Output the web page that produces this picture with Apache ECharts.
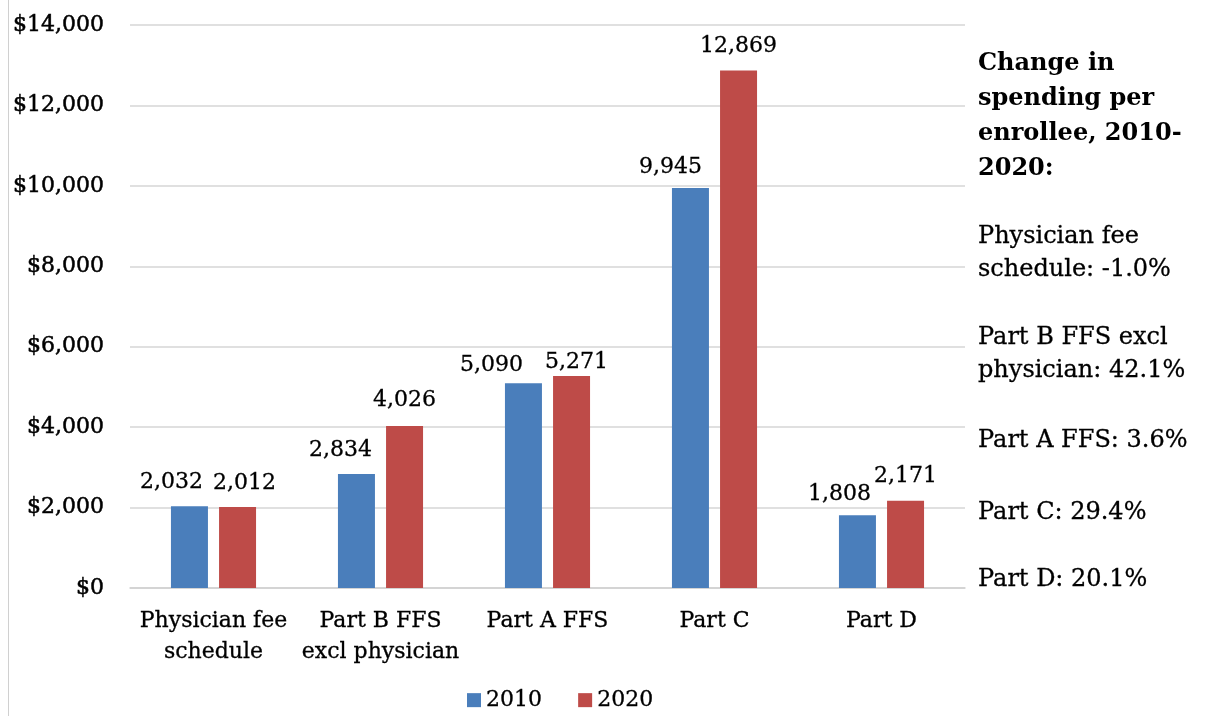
<!DOCTYPE html>
<html>
<head>
<meta charset="utf-8">
<script src="https://cdn.jsdelivr.net/npm/echarts@6/dist/echarts.min.js"></script>
<style>
html,body{margin:0;padding:0;background:#fff;}
#chart{width:1206px;height:726px;}
</style>
</head>
<body>
<div id="chart"></div>
<script>
var categories = ['Physician fee\nschedule', 'Part B FFS\nexcl physician', 'Part A FFS', 'Part C', 'Part D'];
var values2010 = [2032, 2834, 5090, 9945, 1808];
var values2020 = [2012, 4026, 5271, 12869, 2171];
var seriesNames = ['2010', '2020'];
var yTicks = { min: 0, max: 14000, interval: 2000 };
var noteTitle = 'Change in\nspending per\nenrollee, 2010-\n2020:';
var notes = ['Physician fee\nschedule: -1.0%', 'Part B FFS excl\nphysician: 42.1%', 'Part A FFS: 3.6%', 'Part C: 29.4%', 'Part D: 20.1%'];

// label nudges (style only), [dx, dy] in px
var labelShift2010 = [[-18, -5], [-16, -5], [-32, 1], [-20, -2], [-18, -2]];
var labelShift2020 = [[7, -5], [0, -7], [5, 5], [0, -5], [0, -5]];

var FONT = '"DejaVu Serif", "Liberation Serif", serif';
var TXT = '#000';
var chart = echarts.init(document.getElementById('chart'));

function fmtNum(v){ return v.toString().replace(/\B(?=(\d{3})+(?!\d))/g, ','); }

var noteTops = [220, 321, 424, 496, 563];
var graphics = [
  { type: 'line', shape: { x1: 8.5, y1: 0, x2: 8.5, y2: 716 }, style: { stroke: '#d0d0d0', lineWidth: 1 } },
  { type: 'text', x: 978, y: 46, style: { text: noteTitle, font: 'bold 24px ' + FONT, lineHeight: 35, fill: TXT, textVerticalAlign: 'top' } }
];
notes.forEach(function(t, i){
  graphics.push({ type: 'text', x: 978, y: noteTops[i], style: { text: t, font: '24px ' + FONT, lineHeight: 33, fill: TXT, textVerticalAlign: 'top', stroke: TXT, lineWidth: 0.3 } });
});

function labelOpt(){
  return {
    show: true, position: 'top', distance: 8,
    fontFamily: FONT, fontSize: 22, color: TXT, textBorderColor: TXT, textBorderWidth: 0.3,
    formatter: function(p){ return fmtNum(p.value); }
  };
}
function buildData(vals, shifts){
  return vals.map(function(v, i){
    return { value: v, label: { offset: shifts[i] } };
  });
}

chart.setOption({
  animation: false,
  backgroundColor: '#fff',
  grid: { left: 130, right: 241, top: 25, bottom: 138, containLabel: false },
  legend: {
    data: seriesNames, left: 462, top: 684, icon: 'rect', itemWidth: 14, itemHeight: 14, itemGap: 36,
    textStyle: { fontFamily: FONT, fontSize: 22, color: TXT, textBorderColor: TXT, textBorderWidth: 0.3 }
  },
  xAxis: {
    type: 'category', data: categories,
    axisLine: { lineStyle: { color: '#d0d0d0', width: 1.5 } },
    axisTick: { show: false },
    axisLabel: { fontFamily: FONT, fontSize: 22, color: TXT, lineHeight: 31, margin: 18, interval: 0, textBorderColor: TXT, textBorderWidth: 0.3 }
  },
  yAxis: {
    type: 'value', min: yTicks.min, max: yTicks.max, interval: yTicks.interval,
    axisLine: { show: false }, axisTick: { show: false },
    splitLine: { lineStyle: { color: '#d6d6d6', width: 1.5 } },
    axisLabel: { fontFamily: FONT, fontSize: 22, color: TXT, margin: 26, textBorderColor: TXT, textBorderWidth: 0.5, formatter: function(v){ return '$' + fmtNum(v); } }
  },
  series: [
    { name: seriesNames[0], type: 'bar', data: buildData(values2010, labelShift2010), barWidth: 37, barGap: '30%', itemStyle: { color: '#4a7ebb' }, label: labelOpt() },
    { name: seriesNames[1], type: 'bar', data: buildData(values2020, labelShift2020), barWidth: 37, barGap: '30%', itemStyle: { color: '#be4b48' }, label: labelOpt() }
  ],
  graphic: graphics
});
</script>
</body>
</html>
